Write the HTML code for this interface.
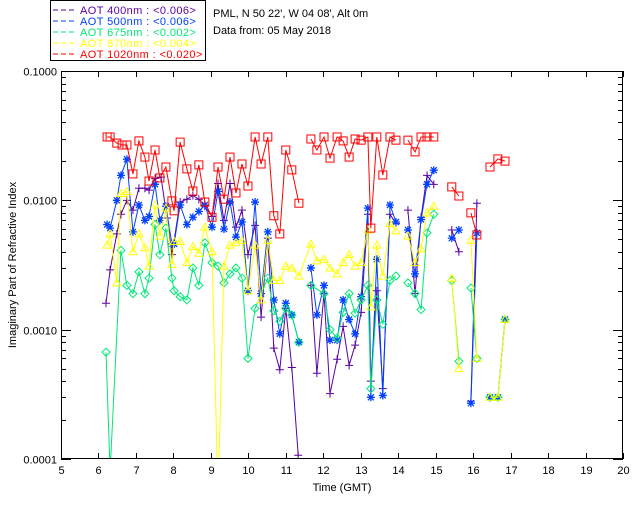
<!DOCTYPE html>
<html><head><meta charset="utf-8">
<style>
html,body{margin:0;padding:0;background:#fff;}
svg{display:block;font-family:"Liberation Sans",sans-serif;}
</style></head>
<body>
<svg id="chart" width="640" height="512" viewBox="0 0 640 512" xmlns="http://www.w3.org/2000/svg">
<rect x="0" y="0" width="640" height="512" fill="#fff"/>
<g id="legend">
<rect x="50.5" y="0.5" width="155" height="60" fill="none" stroke="#000"/>
</g>
<text x="213" y="17" font-size="11" fill="#000">PML, N 50 22', W 04 08', Alt 0m</text>
<text x="213" y="34" font-size="11" fill="#000">Data from: 05 May 2018</text>
<defs><clipPath id="plotclip"><rect x="61" y="71" width="562" height="388"/></clipPath></defs>
<g id="series" clip-path="url(#plotclip)"></g>
<g id="axes"></g>
<text x="342" y="491" font-size="11" text-anchor="middle">Time (GMT)</text>
<text x="16" y="265" font-size="11" text-anchor="middle" transform="rotate(-90 16 265)">Imaginary Part of Refractive Index</text>
</svg>
<script>
const xTicks=[5,6,7,8,9,10,11,12,13,14,15,16,17,18,19,20];
const yTickVals=[0.1,0.01,0.001,0.0001];
const yTickLabels=["0.1000","0.0100","0.0010","0.0001"];
const legendLabels=["AOT  400nm : <0.006>","AOT  500nm : <0.006>","AOT  675nm : <0.002>","AOT  870nm : <0.004>","AOT 1020nm : <0.020>"];
const seriesColors=["#5a00a0","#0040ff","#00e878","#ffff00","#ff0000"];
const seriesMarkers=["plus","asterisk","diamond","triangle","square"];

const t400=[6.20,6.31,6.49,6.60,6.76,6.92,7.08,7.24,7.35,7.51,7.67,7.83,7.96,8.18,8.36,8.52,8.68,8.84,9.03,9.19,9.35,9.51,9.67,9.83,9.99,10.18,10.34,10.52,10.68,10.84,11.00,11.16,11.33,null,11.67,11.83,12.02,12.18,12.37,12.53,12.69,12.85,13.01,13.19,13.27,13.43,13.59,13.78,13.94,null,14.26,14.45,14.61,14.77,14.95,null,15.43,15.62,null,15.94,16.10];
const v400=[0.0016,0.0029,0.0055,0.0078,0.0100,0.0084,0.0124,0.0124,0.0120,0.0148,0.0151,0.0073,0.0038,0.0097,0.0102,0.0109,0.0102,0.0090,0.0075,0.0135,0.0070,0.0135,0.0062,0.0084,0.0038,0.0064,0.00125,0.0051,0.00072,0.00049,0.00146,0.00051,0.000107,null,0.0022,0.00046,0.0019,0.00032,0.00059,0.00106,0.00053,0.00076,0.00136,0.0078,0.0004,0.0020,0.00035,0.0078,0.0066,null,0.0084,0.0019,0.0074,0.0156,0.0133,null,0.0059,0.0040,null,0.00028,0.0095];

const t500=[6.23,6.31,6.49,6.60,6.76,6.92,7.08,7.24,7.35,7.51,7.64,7.80,7.96,8.02,8.18,8.36,8.52,8.68,8.84,9.03,9.19,9.35,9.51,9.67,9.83,9.99,10.18,10.34,10.52,10.68,10.84,11.00,11.16,11.35,null,11.67,11.83,12.02,12.18,12.37,12.53,12.69,12.85,13.01,13.19,13.27,13.43,13.59,13.78,13.94,null,14.26,14.45,14.61,14.77,14.95,null,15.43,15.62,null,15.94,16.10,null,16.45,16.66,16.85];
const v500=[0.0065,0.0061,0.0100,0.0156,0.0208,0.0057,0.0092,0.0070,0.0075,0.0133,0.0070,0.0090,0.0046,0.0046,0.0092,0.0065,0.0074,0.0082,0.0092,0.0062,0.0117,0.0060,0.0097,0.0052,0.0068,0.0020,0.0097,0.0019,0.0057,0.0017,0.00093,0.0016,0.0013,0.00080,null,0.0030,0.0013,0.0022,0.00083,0.00083,0.0017,0.0012,0.00093,0.0018,0.0087,0.00030,0.0035,0.00031,0.0092,0.0068,null,0.0059,0.0027,0.0071,0.0133,0.0171,null,0.0051,0.0059,null,0.00027,0.0056,null,0.00030,0.00030,0.0012];

const t675=[6.20,6.31,6.60,6.76,6.92,7.08,7.24,7.35,7.51,7.64,7.80,7.96,8.02,8.18,8.36,8.52,8.68,8.84,9.03,9.19,9.35,9.51,9.67,9.83,9.99,10.18,10.52,10.68,10.84,11.00,11.16,11.35,null,11.67,12.02,12.18,12.37,12.53,12.69,12.85,13.01,13.19,13.27,13.43,13.59,13.78,13.94,null,14.26,14.45,14.61,14.77,14.95,null,15.43,15.62,null,15.94,16.10,null,16.45,16.66,16.85];
const v675=[0.00067,0.00008,0.0041,0.0022,0.0019,0.0028,0.0019,0.0025,0.0065,0.0038,0.0061,0.0025,0.0020,0.0018,0.0017,0.0030,0.0022,0.0047,0.0033,0.0031,0.0023,0.0027,0.0030,0.0025,0.0006,0.00146,0.0025,0.0014,0.00116,0.00146,0.0013,0.0008,null,0.0022,0.0019,0.0010,0.00086,0.00136,0.0019,0.00134,0.0017,0.0022,0.00035,0.0017,0.0011,0.0024,0.0026,null,0.0023,0.0019,0.00143,0.0056,0.0078,null,0.0024,0.00057,null,0.0021,0.0006,null,0.0003,0.0003,0.0012];

const t870=[6.23,6.31,6.49,6.60,6.76,6.92,7.08,7.24,7.35,7.51,7.64,7.80,7.96,8.02,8.18,8.36,8.52,8.68,8.84,9.03,9.19,9.35,9.51,9.67,9.83,9.99,10.18,10.34,10.52,10.68,10.84,11.00,11.16,11.35,11.67,11.83,12.02,12.18,12.37,12.53,12.69,12.85,13.01,13.19,13.27,13.43,13.59,13.78,13.94,null,14.26,14.45,14.61,14.77,14.95,null,15.43,15.62,null,15.94,16.10,null,16.45,16.66,16.85];
const v870=[0.0045,0.0055,0.0023,0.0113,0.0117,0.0040,0.0055,0.0043,0.0031,0.0092,0.0053,0.0087,0.0032,0.0048,0.0048,0.0033,0.0044,0.0039,0.0062,0.0040,0.00005,0.0031,0.0045,0.0047,0.0049,0.0020,0.0045,0.0017,0.0049,0.0024,0.0024,0.0031,0.0030,0.0026,0.0046,0.0034,0.0035,0.0030,0.0027,0.0033,0.0038,0.0031,0.0033,0.0059,0.0015,0.0045,0.0026,0.0066,0.0058,null,0.0053,0.0033,0.0042,0.0080,0.0090,null,0.0025,0.0005,null,0.0049,0.0006,null,0.0003,0.0003,0.0012];

const t1020=[6.23,6.31,6.49,6.63,6.76,6.92,7.08,7.24,7.35,7.51,7.64,7.80,7.96,8.02,8.18,8.36,8.52,8.68,8.84,9.03,9.19,9.35,9.51,9.67,9.83,9.99,10.18,10.34,10.52,10.68,10.84,11.00,11.16,11.35,null,11.67,11.83,12.02,12.18,12.37,12.53,12.69,12.85,13.01,13.19,13.27,13.43,13.59,13.78,13.94,null,14.26,14.45,14.61,14.77,14.95,null,15.43,15.62,null,15.94,16.10,null,16.45,16.66,16.85];
const v1020=[0.0309,0.0309,0.0277,0.0268,0.0268,0.0160,0.0288,0.0216,0.0141,0.0245,0.0149,0.0181,0.0099,0.0083,0.0282,0.0175,0.0118,0.0188,0.0097,0.0074,0.0181,0.0102,0.0216,0.0114,0.0191,0.0129,0.0309,0.0191,0.0309,0.0076,0.0055,0.0245,0.0172,0.0095,null,0.0298,0.0245,0.0309,0.0212,0.0309,0.0288,0.0216,0.0298,0.0292,0.0309,0.0061,0.0309,0.0157,0.0309,0.0292,null,0.0292,0.0237,0.0309,0.0309,0.0309,null,0.0127,0.0108,null,0.0080,0.0054,null,0.0181,0.0209,0.0201];

const seriesT=[t400,t500,t675,t870,t1020];
const seriesV=[v400,v500,v675,v870,v1020];
const seriesNames=["aot-400nm","aot-500nm","aot-675nm","aot-870nm","aot-1020nm"];

const NS="http://www.w3.org/2000/svg";
const X0=61,X1=623,Y0=71,Y1=459;
function xPix(t){return X0+(t-5)/(20-5)*(X1-X0);}
function yPix(v){return Y0+(-1-Math.log10(v))/3*(Y1-Y0);}
function mk(tag,attrs,parent){const e=document.createElementNS(NS,tag);for(const k in attrs)e.setAttribute(k,attrs[k]);parent.appendChild(e);return e;}

const axes=document.getElementById('axes');
const frame=mk('rect',{x:X0+0.5,y:Y0+0.5,width:X1-X0-1,height:Y1-Y0-1,fill:'none',stroke:'#000'},axes);


xTicks.forEach(t=>{
  const x=Math.round(xPix(t))+0.5;
  mk('line',{x1:x,x2:x,y1:Y1,y2:Y1-6,stroke:'#000'},axes);
  mk('line',{x1:x,x2:x,y1:Y0,y2:Y0+6,stroke:'#000'},axes);
  const lb=mk('text',{x:x,y:Y1+15,'font-size':'11','text-anchor':'middle'},axes);
  lb.textContent=String(t);
  
  
});
yTickVals.forEach((v,i)=>{
  const y=Math.round(yPix(v))+0.5;
  mk('line',{x1:X0,x2:X0+10,y1:y,y2:y,stroke:'#000'},axes);
  mk('line',{x1:X1,x2:X1-10,y1:y,y2:y,stroke:'#000'},axes);
  const lb=mk('text',{x:X0-4,y:y+4,'font-size':'11','text-anchor':'end'},axes);
  lb.textContent=yTickLabels[i];
  
  
  if(i<yTickVals.length-1){
    for(let m=2;m<=9;m++){
      const ym=Math.round(yPix(v/10*m))+0.5;
      mk('line',{x1:X0,x2:X0+5,y1:ym,y2:ym,stroke:'#000'},axes);
      mk('line',{x1:X1,x2:X1-5,y1:ym,y2:ym,stroke:'#000'},axes);
    }
  }
});

function marker(type,x,y,color,parent){
  const r=4;let e;
  if(type==='plus'){e=mk('path',{d:`M${x-r} ${y}H${x+r}M${x} ${y-r}V${y+r}`,stroke:color,fill:'none'},parent);}
  else if(type==='asterisk'){e=mk('path',{d:`M${x-r} ${y}H${x+r}M${x} ${y-r}V${y+r}M${x-3} ${y-3}L${x+3} ${y+3}M${x-3} ${y+3}L${x+3} ${y-3}`,stroke:color,fill:'none','stroke-width':1.3},parent);}
  else if(type==='diamond'){e=mk('path',{d:`M${x} ${y-r}L${x+r} ${y}L${x} ${y+r}L${x-r} ${y}Z`,stroke:color,fill:'none'},parent);}
  else if(type==='triangle'){e=mk('path',{d:`M${x} ${y-r}L${x+r} ${y+3}L${x-r} ${y+3}Z`,stroke:color,fill:'none'},parent);}
  else {e=mk('rect',{x:x-4,y:y-4,width:8,height:8,stroke:color,fill:'none'},parent);}
  return e;
}

const sg=document.getElementById('series');
seriesT.forEach((ts,s)=>{
  const g=mk('g',{},sg);
  
  
  const vs=seriesV[s];let d='';let pen=false;
  ts.forEach((t,i)=>{
    if(t===null||vs[i]===null){pen=false;return;}
    d+=(pen?'L':'M')+xPix(t).toFixed(1)+' '+yPix(vs[i]).toFixed(1);pen=true;
  });
  const ln=mk('path',{d:d,stroke:seriesColors[s],fill:'none','stroke-width':1},g);
  
  
  ts.forEach((t,i)=>{
    if(t===null||vs[i]===null)return;
    const m=marker(seriesMarkers[s],xPix(t),yPix(vs[i]),seriesColors[s],g);
    
    
  });
});

const lg=document.getElementById('legend');
legendLabels.forEach((lab,i)=>{
  const y=10+i*11;
  const l=mk('line',{x1:53,x2:76,y1:y,y2:y,stroke:seriesColors[i],'stroke-dasharray':'5 3'},lg);
  
  
  const tx=mk('text',{x:80,y:y+4,'font-size':'11',fill:seriesColors[i],'letter-spacing':'0.4','xml:space':'preserve'},lg);
  tx.textContent=lab;
  
  
});
</script>
</body></html>
